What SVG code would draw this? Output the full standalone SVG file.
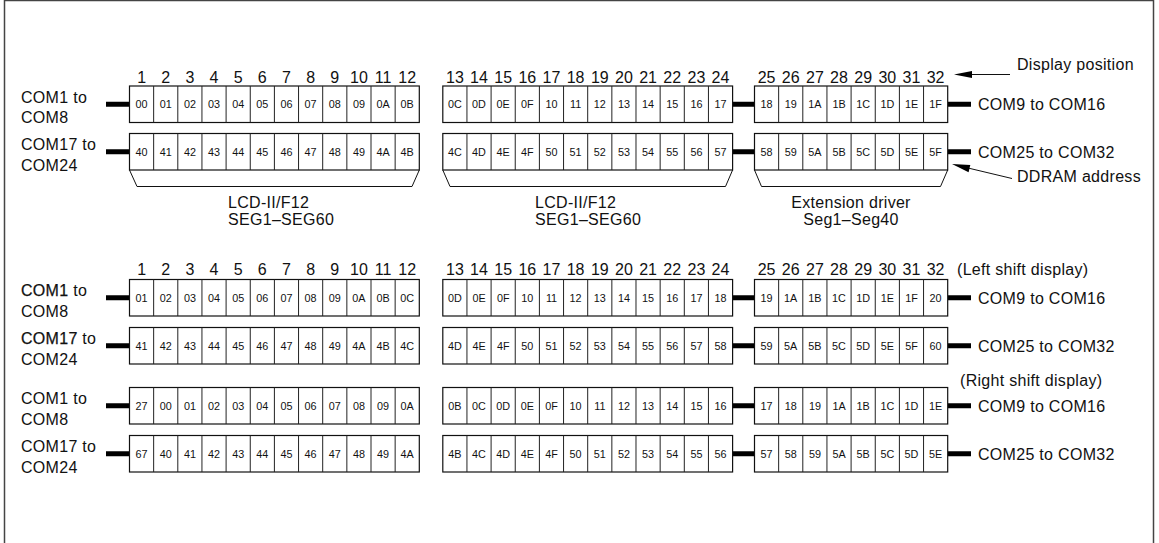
<svg xmlns="http://www.w3.org/2000/svg" xmlns:xlink="http://www.w3.org/1999/xlink" width="1159" height="543" viewBox="0 0 1159 543">
<style>
text{font-family:"Liberation Sans",Arial,sans-serif;fill:#111}
.c{font-size:10.8px;text-anchor:middle}
.n{font-size:16px;text-anchor:middle}
.l{font-size:16px;letter-spacing:0.3px}
.m{font-size:16px;letter-spacing:0.3px;text-anchor:middle}
.box{fill:#fff;stroke:#111;stroke-width:1.2}
.div{fill:none;stroke:#222;stroke-width:1}
.bar{stroke:#000;stroke-width:5}
.thin{fill:none;stroke:#111;stroke-width:1}
</style>
<defs>
<g id="b12"><rect class="box" x="0" y="0" width="289.8" height="36.5"/><path class="div" d="M24.15 0v36.5M48.3 0v36.5M72.45 0v36.5M96.6 0v36.5M120.75 0v36.5M144.9 0v36.5M169.05 0v36.5M193.2 0v36.5M217.35 0v36.5M241.5 0v36.5M265.65 0v36.5"/></g>
<g id="b8"><rect class="box" x="0" y="0" width="193.2" height="36.5"/><path class="div" d="M24.15 0v36.5M48.3 0v36.5M72.45 0v36.5M96.6 0v36.5M120.75 0v36.5M144.9 0v36.5M169.05 0v36.5"/></g>
</defs>
<rect x="4.5" y="0.5" width="1149" height="600" fill="none" stroke="#444" stroke-width="1.5"/>

<g id="connectors">
<line class="bar" x1="106" y1="104.25" x2="129.5" y2="104.25"/>
<line class="bar" x1="732.6" y1="104.25" x2="754.5" y2="104.25"/>
<line class="bar" x1="947.7" y1="104.25" x2="971" y2="104.25"/>
<line class="bar" x1="106" y1="151.75" x2="129.5" y2="151.75"/>
<line class="bar" x1="732.6" y1="151.75" x2="754.5" y2="151.75"/>
<line class="bar" x1="947.7" y1="151.75" x2="971" y2="151.75"/>
<line class="bar" x1="106" y1="297.75" x2="129.5" y2="297.75"/>
<line class="bar" x1="732.6" y1="297.75" x2="754.5" y2="297.75"/>
<line class="bar" x1="947.7" y1="297.75" x2="971" y2="297.75"/>
<line class="bar" x1="106" y1="345.75" x2="129.5" y2="345.75"/>
<line class="bar" x1="732.6" y1="345.75" x2="754.5" y2="345.75"/>
<line class="bar" x1="947.7" y1="345.75" x2="971" y2="345.75"/>
<line class="bar" x1="106" y1="405.75" x2="129.5" y2="405.75"/>
<line class="bar" x1="732.6" y1="405.75" x2="754.5" y2="405.75"/>
<line class="bar" x1="947.7" y1="405.75" x2="971" y2="405.75"/>
<line class="bar" x1="106" y1="453.75" x2="129.5" y2="453.75"/>
<line class="bar" x1="732.6" y1="453.75" x2="754.5" y2="453.75"/>
<line class="bar" x1="947.7" y1="453.75" x2="971" y2="453.75"/>
<line class="thin" x1="971" y1="74.5" x2="1010" y2="74.5"/>
<polygon points="954,74.5 972,71 972,78" fill="#000"/>
<line class="thin" x1="968" y1="168" x2="1012" y2="178.5"/>
<polygon points="952,164 970.3,164.9 968.6,172.2" fill="#000"/>
</g>

<g id="column-numbers">
<text class="n" y="82.5"><tspan x="141.6">1</tspan><tspan x="165.7">2</tspan><tspan x="189.9">3</tspan><tspan x="214">4</tspan><tspan x="238.2">5</tspan><tspan x="262.3">6</tspan><tspan x="286.5">7</tspan><tspan x="310.6">8</tspan><tspan x="334.8">9</tspan><tspan x="358.9">10</tspan><tspan x="383.1">11</tspan><tspan x="407.2">12</tspan></text>
<text class="n" y="82.5"><tspan x="454.9">13</tspan><tspan x="479">14</tspan><tspan x="503.2">15</tspan><tspan x="527.3">16</tspan><tspan x="551.5">17</tspan><tspan x="575.6">18</tspan><tspan x="599.8">19</tspan><tspan x="623.9">20</tspan><tspan x="648.1">21</tspan><tspan x="672.2">22</tspan><tspan x="696.4">23</tspan><tspan x="720.5">24</tspan></text>
<text class="n" y="82.5"><tspan x="766.6">25</tspan><tspan x="790.7">26</tspan><tspan x="814.9">27</tspan><tspan x="839">28</tspan><tspan x="863.2">29</tspan><tspan x="887.3">30</tspan><tspan x="911.5">31</tspan><tspan x="935.6">32</tspan></text>
<text class="n" y="274.5"><tspan x="141.6">1</tspan><tspan x="165.7">2</tspan><tspan x="189.9">3</tspan><tspan x="214">4</tspan><tspan x="238.2">5</tspan><tspan x="262.3">6</tspan><tspan x="286.5">7</tspan><tspan x="310.6">8</tspan><tspan x="334.8">9</tspan><tspan x="358.9">10</tspan><tspan x="383.1">11</tspan><tspan x="407.2">12</tspan></text>
<text class="n" y="274.5"><tspan x="454.9">13</tspan><tspan x="479">14</tspan><tspan x="503.2">15</tspan><tspan x="527.3">16</tspan><tspan x="551.5">17</tspan><tspan x="575.6">18</tspan><tspan x="599.8">19</tspan><tspan x="623.9">20</tspan><tspan x="648.1">21</tspan><tspan x="672.2">22</tspan><tspan x="696.4">23</tspan><tspan x="720.5">24</tspan></text>
<text class="n" y="274.5"><tspan x="766.6">25</tspan><tspan x="790.7">26</tspan><tspan x="814.9">27</tspan><tspan x="839">28</tspan><tspan x="863.2">29</tspan><tspan x="887.3">30</tspan><tspan x="911.5">31</tspan><tspan x="935.6">32</tspan></text>
</g>

<g id="labels">
<text class="l" x="1017" y="70">Display position</text>
<text class="l" x="1017" y="182">DDRAM address</text>
<text class="l" x="957" y="275">(Left shift display)</text>
<text class="l" x="960" y="386">(Right shift display)</text>
</g>

<g id="com-left">
<text class="l" x="21" y="102.5">COM1 to</text><text class="l" x="21" y="123">COM8</text>
<text class="l" x="21" y="150">COM17 to</text><text class="l" x="21" y="170.5">COM24</text>
<text class="l" x="21" y="296"><tspan stroke="#111" stroke-width="0.25">COM1</tspan> to</text><text class="l" x="21" y="316.5">COM8</text>
<text class="l" x="21" y="344"><tspan stroke="#111" stroke-width="0.25">COM17</tspan> to</text><text class="l" x="21" y="364.5">COM24</text>
<text class="l" x="21" y="404">COM1 to</text><text class="l" x="21" y="424.5">COM8</text>
<text class="l" x="21" y="452">COM17 to</text><text class="l" x="21" y="472.5">COM24</text>
</g>
<g id="com-right">
<text class="l" x="978" y="110.3">COM9 to COM16</text>
<text class="l" x="978" y="157.8">COM25 to COM32</text>
<text class="l" x="978" y="303.8">COM9 to COM16</text>
<text class="l" x="978" y="351.8">COM25 to COM32</text>
<text class="l" x="978" y="411.8">COM9 to COM16</text>
<text class="l" x="978" y="459.8">COM25 to COM32</text>
</g>

<g id="driver1">
<polyline class="thin" points="129.5,170 137,186.5 412,186.5 419.3,170"/>
<text class="l" x="228" y="208">LCD-II/F12</text>
<text class="l" x="228" y="224.5">SEG1–SEG60</text>
</g>
<g id="driver2">
<polyline class="thin" points="442.8,170 450,186.5 725.5,186.5 732.6,170"/>
<text class="l" x="535" y="208">LCD-II/F12</text>
<text class="l" x="535" y="224.5">SEG1–SEG60</text>
</g>
<g id="driver3">
<polyline class="thin" points="754.5,170 761.5,186.5 940.5,186.5 947.7,170"/>
<text class="m" x="851" y="208">Extension driver</text>
<text class="m" x="851" y="224.5">Seg1–Seg40</text>
</g>

<g id="top-r1-b1"><use xlink:href="#b12" x="129.5" y="86"/>
<text class="c" y="108"><tspan x="141.6">00</tspan><tspan x="165.7">01</tspan><tspan x="189.9">02</tspan><tspan x="214">03</tspan><tspan x="238.2">04</tspan><tspan x="262.3">05</tspan><tspan x="286.5">06</tspan><tspan x="310.6">07</tspan><tspan x="334.8">08</tspan><tspan x="358.9">09</tspan><tspan x="383.1">0A</tspan><tspan x="407.2">0B</tspan></text></g>
<g id="top-r1-b2"><use xlink:href="#b12" x="442.8" y="86"/>
<text class="c" y="108"><tspan x="454.9">0C</tspan><tspan x="479">0D</tspan><tspan x="503.2">0E</tspan><tspan x="527.3">0F</tspan><tspan x="551.5">10</tspan><tspan x="575.6">11</tspan><tspan x="599.8">12</tspan><tspan x="623.9">13</tspan><tspan x="648.1">14</tspan><tspan x="672.2">15</tspan><tspan x="696.4">16</tspan><tspan x="720.5">17</tspan></text></g>
<g id="top-r1-b3"><use xlink:href="#b8" x="754.5" y="86"/>
<text class="c" y="108"><tspan x="766.6">18</tspan><tspan x="790.7">19</tspan><tspan x="814.9">1A</tspan><tspan x="839">1B</tspan><tspan x="863.2">1C</tspan><tspan x="887.3">1D</tspan><tspan x="911.5">1E</tspan><tspan x="935.6">1F</tspan></text></g>

<g id="top-r2-b1"><use xlink:href="#b12" x="129.5" y="133.5"/>
<text class="c" y="155.5"><tspan x="141.6">40</tspan><tspan x="165.7">41</tspan><tspan x="189.9">42</tspan><tspan x="214">43</tspan><tspan x="238.2">44</tspan><tspan x="262.3">45</tspan><tspan x="286.5">46</tspan><tspan x="310.6">47</tspan><tspan x="334.8">48</tspan><tspan x="358.9">49</tspan><tspan x="383.1">4A</tspan><tspan x="407.2">4B</tspan></text></g>
<g id="top-r2-b2"><use xlink:href="#b12" x="442.8" y="133.5"/>
<text class="c" y="155.5"><tspan x="454.9">4C</tspan><tspan x="479">4D</tspan><tspan x="503.2">4E</tspan><tspan x="527.3">4F</tspan><tspan x="551.5">50</tspan><tspan x="575.6">51</tspan><tspan x="599.8">52</tspan><tspan x="623.9">53</tspan><tspan x="648.1">54</tspan><tspan x="672.2">55</tspan><tspan x="696.4">56</tspan><tspan x="720.5">57</tspan></text></g>
<g id="top-r2-b3"><use xlink:href="#b8" x="754.5" y="133.5"/>
<text class="c" y="155.5"><tspan x="766.6">58</tspan><tspan x="790.7">59</tspan><tspan x="814.9">5A</tspan><tspan x="839">5B</tspan><tspan x="863.2">5C</tspan><tspan x="887.3">5D</tspan><tspan x="911.5">5E</tspan><tspan x="935.6">5F</tspan></text></g>

<g id="ls-r1-b1"><use xlink:href="#b12" x="129.5" y="279.5"/>
<text class="c" y="301.5"><tspan x="141.6">01</tspan><tspan x="165.7">02</tspan><tspan x="189.9">03</tspan><tspan x="214">04</tspan><tspan x="238.2">05</tspan><tspan x="262.3">06</tspan><tspan x="286.5">07</tspan><tspan x="310.6">08</tspan><tspan x="334.8">09</tspan><tspan x="358.9">0A</tspan><tspan x="383.1">0B</tspan><tspan x="407.2">0C</tspan></text></g>
<g id="ls-r1-b2"><use xlink:href="#b12" x="442.8" y="279.5"/>
<text class="c" y="301.5"><tspan x="454.9">0D</tspan><tspan x="479">0E</tspan><tspan x="503.2">0F</tspan><tspan x="527.3">10</tspan><tspan x="551.5">11</tspan><tspan x="575.6">12</tspan><tspan x="599.8">13</tspan><tspan x="623.9">14</tspan><tspan x="648.1">15</tspan><tspan x="672.2">16</tspan><tspan x="696.4">17</tspan><tspan x="720.5">18</tspan></text></g>
<g id="ls-r1-b3"><use xlink:href="#b8" x="754.5" y="279.5"/>
<text class="c" y="301.5"><tspan x="766.6">19</tspan><tspan x="790.7">1A</tspan><tspan x="814.9">1B</tspan><tspan x="839">1C</tspan><tspan x="863.2">1D</tspan><tspan x="887.3">1E</tspan><tspan x="911.5">1F</tspan><tspan x="935.6">20</tspan></text></g>

<g id="ls-r2-b1"><use xlink:href="#b12" x="129.5" y="327.5"/>
<text class="c" y="349.5"><tspan x="141.6">41</tspan><tspan x="165.7">42</tspan><tspan x="189.9">43</tspan><tspan x="214">44</tspan><tspan x="238.2">45</tspan><tspan x="262.3">46</tspan><tspan x="286.5">47</tspan><tspan x="310.6">48</tspan><tspan x="334.8">49</tspan><tspan x="358.9">4A</tspan><tspan x="383.1">4B</tspan><tspan x="407.2">4C</tspan></text></g>
<g id="ls-r2-b2"><use xlink:href="#b12" x="442.8" y="327.5"/>
<text class="c" y="349.5"><tspan x="454.9">4D</tspan><tspan x="479">4E</tspan><tspan x="503.2">4F</tspan><tspan x="527.3">50</tspan><tspan x="551.5">51</tspan><tspan x="575.6">52</tspan><tspan x="599.8">53</tspan><tspan x="623.9">54</tspan><tspan x="648.1">55</tspan><tspan x="672.2">56</tspan><tspan x="696.4">57</tspan><tspan x="720.5">58</tspan></text></g>
<g id="ls-r2-b3"><use xlink:href="#b8" x="754.5" y="327.5"/>
<text class="c" y="349.5"><tspan x="766.6">59</tspan><tspan x="790.7">5A</tspan><tspan x="814.9">5B</tspan><tspan x="839">5C</tspan><tspan x="863.2">5D</tspan><tspan x="887.3">5E</tspan><tspan x="911.5">5F</tspan><tspan x="935.6">60</tspan></text></g>

<g id="rs-r1-b1"><use xlink:href="#b12" x="129.5" y="387.5"/>
<text class="c" y="409.5"><tspan x="141.6">27</tspan><tspan x="165.7">00</tspan><tspan x="189.9">01</tspan><tspan x="214">02</tspan><tspan x="238.2">03</tspan><tspan x="262.3">04</tspan><tspan x="286.5">05</tspan><tspan x="310.6">06</tspan><tspan x="334.8">07</tspan><tspan x="358.9">08</tspan><tspan x="383.1">09</tspan><tspan x="407.2">0A</tspan></text></g>
<g id="rs-r1-b2"><use xlink:href="#b12" x="442.8" y="387.5"/>
<text class="c" y="409.5"><tspan x="454.9">0B</tspan><tspan x="479">0C</tspan><tspan x="503.2">0D</tspan><tspan x="527.3">0E</tspan><tspan x="551.5">0F</tspan><tspan x="575.6">10</tspan><tspan x="599.8">11</tspan><tspan x="623.9">12</tspan><tspan x="648.1">13</tspan><tspan x="672.2">14</tspan><tspan x="696.4">15</tspan><tspan x="720.5">16</tspan></text></g>
<g id="rs-r1-b3"><use xlink:href="#b8" x="754.5" y="387.5"/>
<text class="c" y="409.5"><tspan x="766.6">17</tspan><tspan x="790.7">18</tspan><tspan x="814.9">19</tspan><tspan x="839">1A</tspan><tspan x="863.2">1B</tspan><tspan x="887.3">1C</tspan><tspan x="911.5">1D</tspan><tspan x="935.6">1E</tspan></text></g>

<g id="rs-r2-b1"><use xlink:href="#b12" x="129.5" y="435.5"/>
<text class="c" y="457.5"><tspan x="141.6">67</tspan><tspan x="165.7">40</tspan><tspan x="189.9">41</tspan><tspan x="214">42</tspan><tspan x="238.2">43</tspan><tspan x="262.3">44</tspan><tspan x="286.5">45</tspan><tspan x="310.6">46</tspan><tspan x="334.8">47</tspan><tspan x="358.9">48</tspan><tspan x="383.1">49</tspan><tspan x="407.2">4A</tspan></text></g>
<g id="rs-r2-b2"><use xlink:href="#b12" x="442.8" y="435.5"/>
<text class="c" y="457.5"><tspan x="454.9">4B</tspan><tspan x="479">4C</tspan><tspan x="503.2">4D</tspan><tspan x="527.3">4E</tspan><tspan x="551.5">4F</tspan><tspan x="575.6">50</tspan><tspan x="599.8">51</tspan><tspan x="623.9">52</tspan><tspan x="648.1">53</tspan><tspan x="672.2">54</tspan><tspan x="696.4">55</tspan><tspan x="720.5">56</tspan></text></g>
<g id="rs-r2-b3"><use xlink:href="#b8" x="754.5" y="435.5"/>
<text class="c" y="457.5"><tspan x="766.6">57</tspan><tspan x="790.7">58</tspan><tspan x="814.9">59</tspan><tspan x="839">5A</tspan><tspan x="863.2">5B</tspan><tspan x="887.3">5C</tspan><tspan x="911.5">5D</tspan><tspan x="935.6">5E</tspan></text></g>
</svg>
